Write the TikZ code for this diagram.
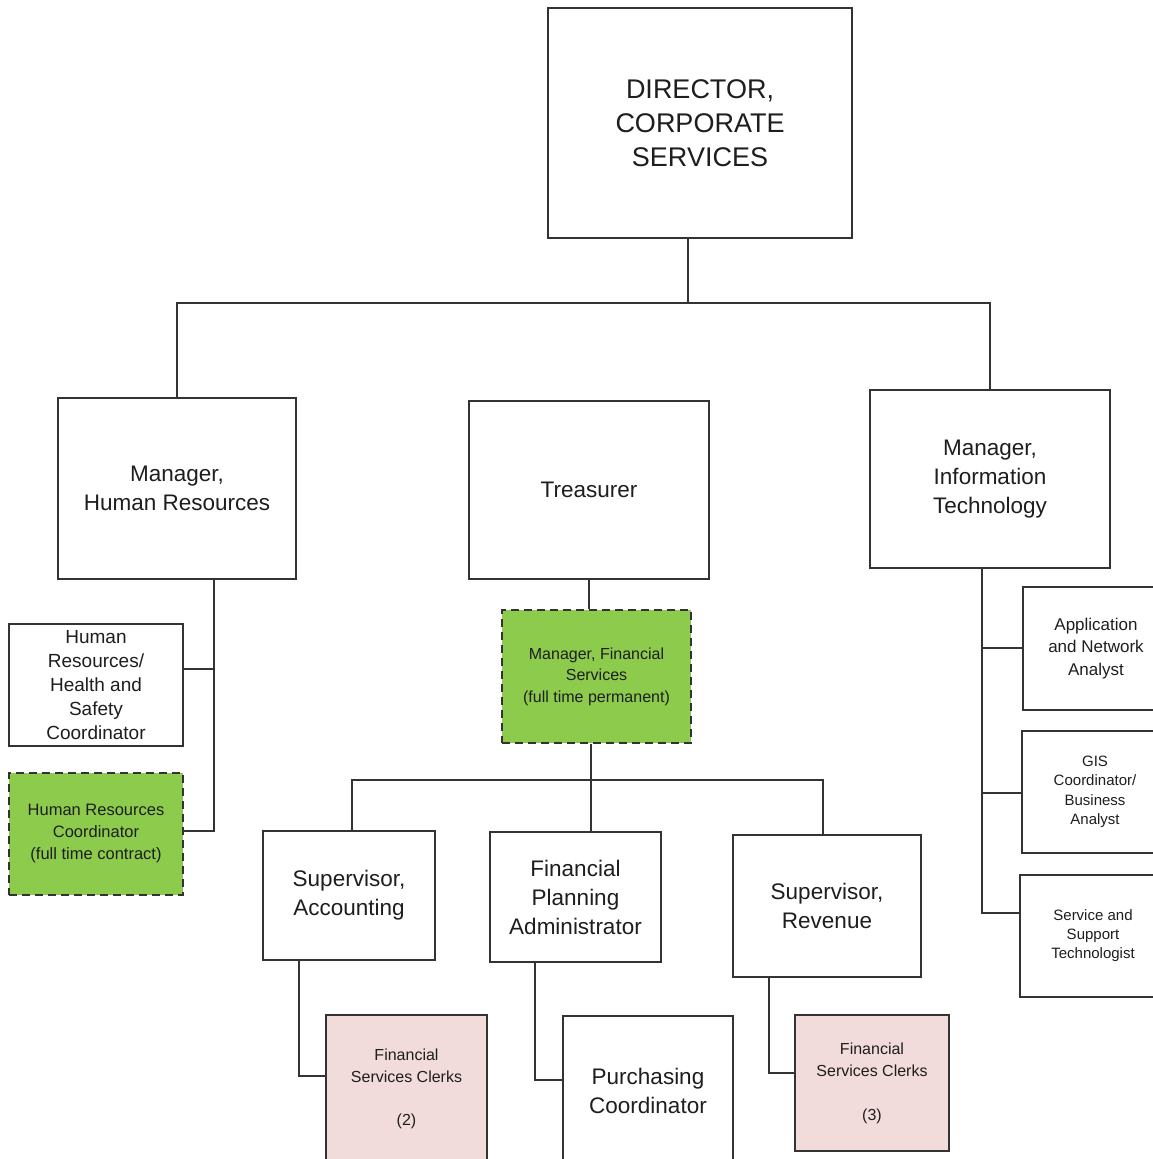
\documentclass[tikz,border=0pt]{standalone}
\usepackage{fontspec}
\setmainfont{Liberation Sans}
\definecolor{txt}{HTML}{1E1E1E}
\definecolor{edge}{HTML}{333333}
\definecolor{gfill}{HTML}{8CCB4C}
\definecolor{pfill}{HTML}{F2DCDB}
\tikzset{
  box/.style={draw=edge, line width=1.5pt, fill=white, align=center, inner sep=0pt, text=txt},
  gbox/.style={box, fill=gfill, dash pattern=on 8pt off 5pt},
  pbox/.style={box, fill=pfill},
  conn/.style={draw=edge, line width=1.5pt},
}
\newcommand{\fs}[2]{\fontsize{#1}{#2}\selectfont}
\begin{document}
\begin{tikzpicture}[x=1pt,y=-1pt]
\useasboundingbox[fill=white] (0,0) rectangle (1152,1159);

% nodes
\node[box, minimum width=304pt, minimum height=230pt, font=\fs{27}{34}] (dir) at (700,123)
  {DIRECTOR,\\CORPORATE\\SERVICES};
\node[box, minimum width=238pt, minimum height=181pt, font=\fs{22.5}{29}] (hrm) at (177,488.5)
  {Manager,\\Human Resources};
\node[box, minimum width=240pt, minimum height=178pt, font=\fs{22.5}{29}] (trs) at (589,490)
  {Treasurer};
\node[box, minimum width=240pt, minimum height=178pt, font=\fs{22.5}{29}] (itm) at (990,479)
  {Manager,\\Information\\Technology};

\node[box, minimum width=174pt, minimum height=122pt, font=\fs{19}{24}] (hrhs) at (96,685)
  {Human\\Resources/\\Health and\\Safety\\Coordinator};
\node[gbox, minimum width=174pt, minimum height=122pt, font=\fs{16.5}{22}] (hrc) at (96,834)
  {Human Resources\\Coordinator\\(full time contract)};

\node[gbox, minimum width=189pt, minimum height=133pt, font=\fs{16}{21.5}] (mfs) at (596.5,676.5)
  {Manager, Financial\\Services\\(full time permanent)};

\node[box, minimum width=172pt, minimum height=129pt, font=\fs{22.5}{29}] (sa) at (349,895.5)
  {Supervisor,\\Accounting};
\node[box, minimum width=171pt, minimum height=130pt, font=\fs{22.5}{29}] (fpa) at (575.5,897)
  {Financial\\Planning\\Administrator};
\node[box, minimum width=188pt, minimum height=142pt, font=\fs{22.5}{29}] (sr) at (827,906)
  {Supervisor,\\Revenue};

\node[pbox, minimum width=161pt, minimum height=148pt, font=\fs{16}{21.5}] (fsc2) at (406.5,1089)
  {Financial\\Services Clerks\\[21.5pt](2)};
\node[box, minimum width=170pt, minimum height=150pt, font=\fs{22.5}{29}] (pc) at (648,1091)
  {Purchasing\\Coordinator};
\node[pbox, minimum width=154pt, minimum height=136pt, font=\fs{16}{22}] (fsc3) at (872,1083)
  {Financial\\Services Clerks\\[22pt](3)};

\node[box, minimum width=146pt, minimum height=123pt, font=\fs{17}{22.5}] (app) at (1096,648.5)
  {Application\\and Network\\Analyst};
\node[box, minimum width=146pt, minimum height=122pt, font=\fs{15}{19.5}] (gis) at (1095,792)
  {GIS\\Coordinator/\\Business\\Analyst};
\node[box, minimum width=146pt, minimum height=122pt, font=\fs{15}{19}] (sst) at (1093,936)
  {Service and\\Support\\Technologist};

% junction coordinates
\coordinate (j1) at (688,303);
\coordinate (hrv) at (214,579);
\coordinate (hrb1) at (214,669);
\coordinate (hrb2) at (214,831);
\coordinate (trv) at (589,579);
\coordinate (j2) at (591,780);
\coordinate (k1) at (299,1076);
\coordinate (k2) at (535,1080);
\coordinate (k3) at (769,1073);
\coordinate (itv) at (982,568);
\coordinate (it1) at (982,648);
\coordinate (it2) at (982,793);
\coordinate (it3) at (982,913);

% connectors
\draw[conn] (j1 |- dir.south) -- (j1);
\draw[conn] (hrm.north) |- (j1) -| (itm.north);

\draw[conn] (hrv) -- (hrb2) -- (hrb2 -| hrc.east);
\draw[conn] (hrb1) -- (hrb1 -| hrhs.east);

\draw[conn] (trv) -- (trv |- mfs.north);

\draw[conn] (j2 |- mfs.south) -- (j2 |- fpa.north);
\draw[conn] (352,831) |- (j2) -| (823,835);

\draw[conn] (k1 |- sa.south) -- (k1) -- (k1 -| fsc2.west);
\draw[conn] (k2 |- fpa.south) -- (k2) -- (k2 -| pc.west);
\draw[conn] (k3 |- sr.south) -- (k3) -- (k3 -| fsc3.west);

\draw[conn] (itv) -- (it3) -- (it3 -| sst.west);
\draw[conn] (it1) -- (it1 -| app.west);
\draw[conn] (it2) -- (it2 -| gis.west);
\end{tikzpicture}
\end{document}
